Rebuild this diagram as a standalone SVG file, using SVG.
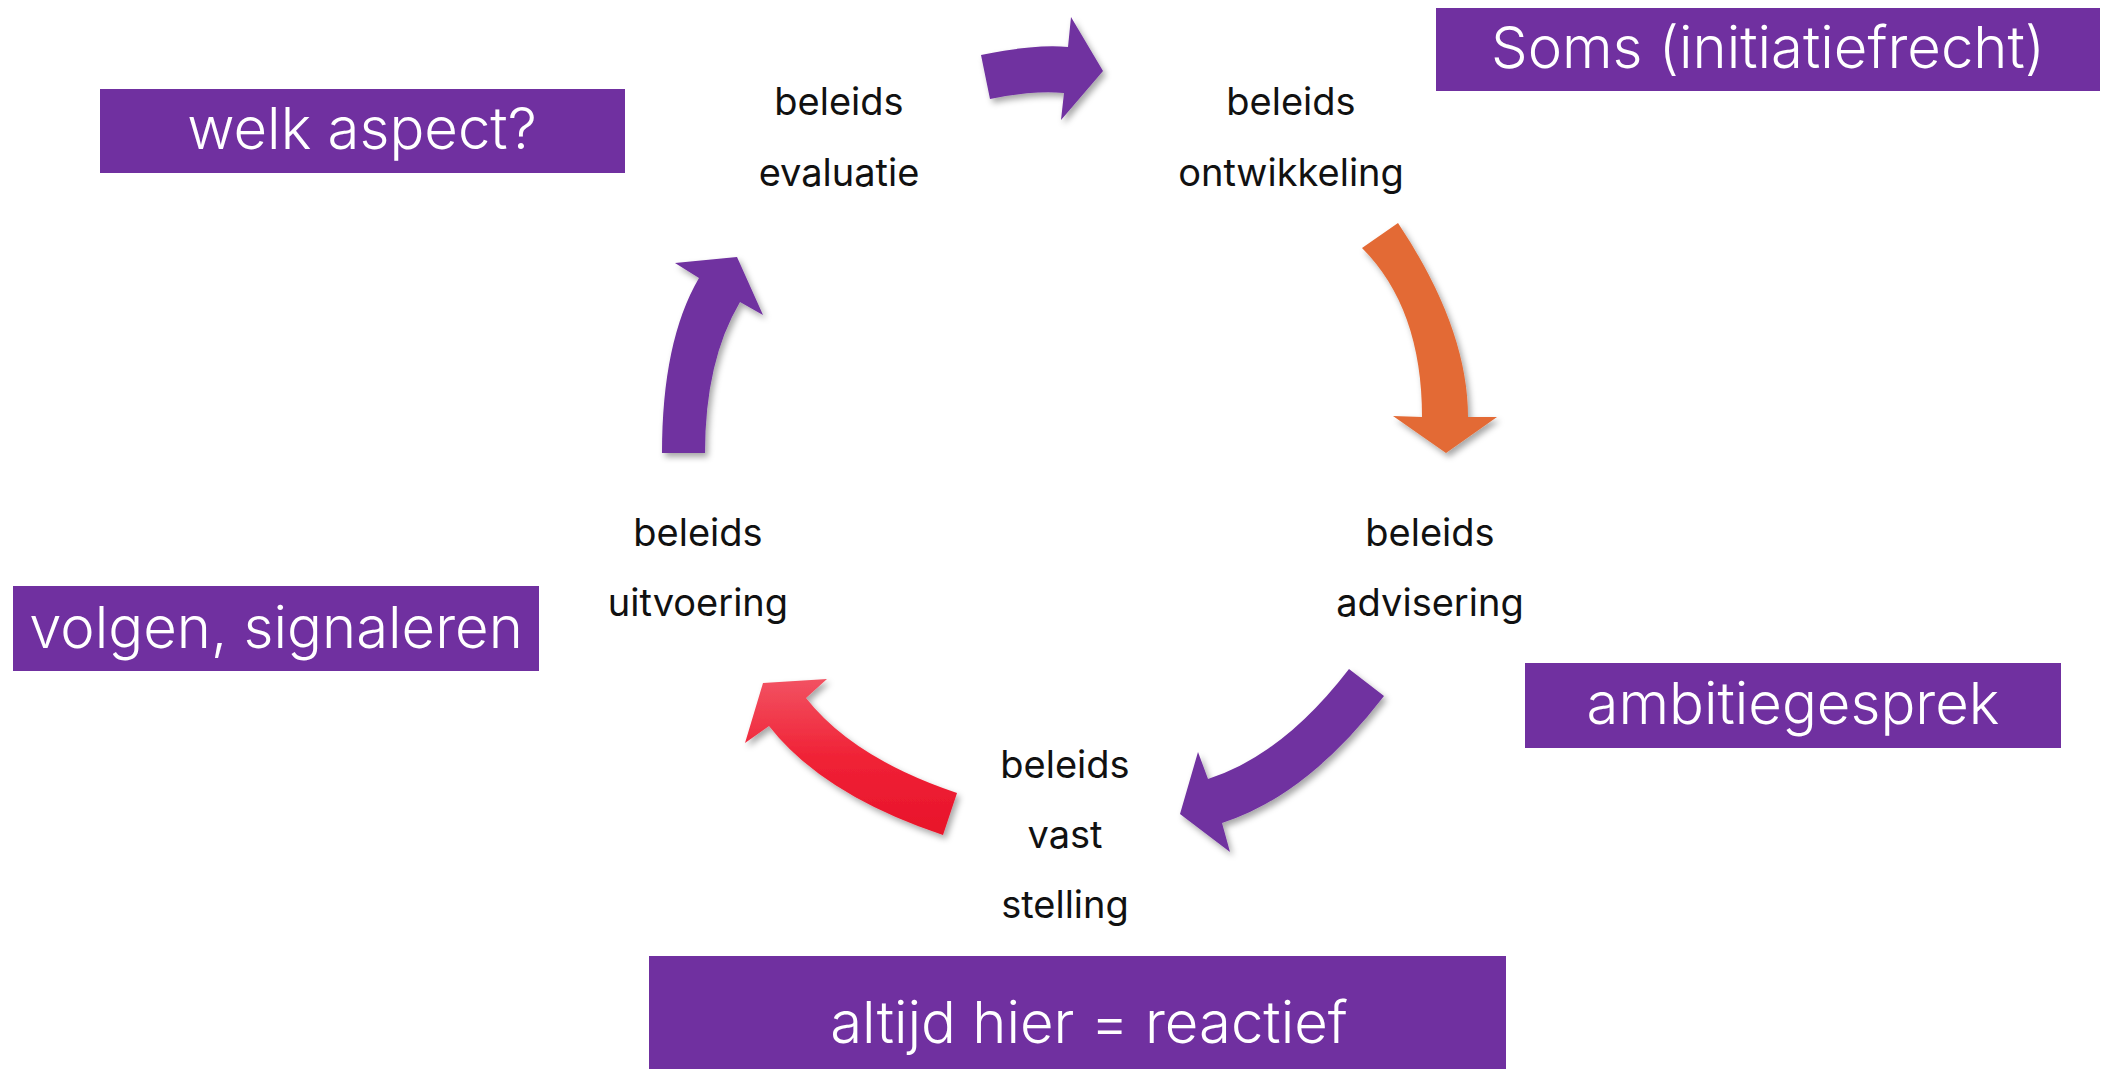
<svg xmlns="http://www.w3.org/2000/svg" width="2108" height="1069" viewBox="0 0 2108 1069">
<style>
.box{fill:#7030A0}
.bt{font-family:Inter,"Noto Sans",sans-serif;font-weight:300;fill:#ffffff;text-anchor:middle;font-size:58px}
.lb{font-family:Inter,"Noto Sans",sans-serif;font-weight:400;fill:#111111;text-anchor:middle;font-size:38px}
.pa{fill:#7030A0}
</style>
<defs>
<filter id="sh" x="-20%" y="-20%" width="150%" height="150%">
<feDropShadow dx="3" dy="4" stdDeviation="3" flood-color="#000" flood-opacity="0.35"/>
</filter>
<linearGradient id="red" x1="0" y1="0" x2="0" y2="1">
<stop offset="0" stop-color="#F25262"/>
<stop offset="0.5" stop-color="#F02236"/>
<stop offset="1" stop-color="#E8132A"/>
</linearGradient>
</defs>
<rect width="2108" height="1069" fill="#ffffff"/>
<g id="connectors" filter="url(#sh)">
<path id="arrow-top" class="pa" d="M981,55 Q1035.5,43.8 1068,47 L1071,17 L1103,71 L1061,120 L1064,93 Q1034,90 990,99 Z"/>
<path id="arrow-right" fill="#E36A35" d="M1362,248 L1398,223 Q1468,328 1468,417 L1497,417 L1446,453 L1393,416 L1422,417 Q1422,308 1362,248 Z"/>
<path id="arrow-bottom-right" class="pa" d="M1349,669 L1384,696 Q1307,796 1222,823 L1230,852 L1180,814 L1198,752 L1208,779 Q1283,755 1349,669 Z"/>
<path id="arrow-bottom-left" fill="url(#red)" d="M957,793 Q853,758 806,698 L827,679 L763,683 L745,743 L769,726 Q823,795 943,835 Z"/>
<path id="arrow-left" class="pa" d="M662,453 Q662,341 699,278 L675,263 L737,257 L763,315 L740,302 Q705,361 705,453 Z"/>
</g>
<g id="node-evaluatie">
<text class="lb" x="839" y="115">beleids</text>
<text class="lb" x="839" y="186">evaluatie</text>
</g>
<g id="node-ontwikkeling">
<text class="lb" x="1291" y="115">beleids</text>
<text class="lb" x="1291" y="186">ontwikkeling</text>
</g>
<g id="node-advisering">
<text class="lb" x="1430" y="546">beleids</text>
<text class="lb" x="1430" y="616">advisering</text>
</g>
<g id="node-vaststelling">
<text class="lb" x="1065" y="778">beleids</text>
<text class="lb" x="1065" y="848">vast</text>
<text class="lb" x="1065" y="918">stelling</text>
</g>
<g id="node-uitvoering">
<text class="lb" x="698" y="546">beleids</text>
<text class="lb" x="698" y="616">uitvoering</text>
</g>
<g id="box-welk">
<rect class="box" x="100" y="89" width="525" height="84"/>
<text class="bt" x="362" y="149">welk aspect?</text>
</g>
<g id="box-soms">
<rect class="box" x="1436" y="8" width="664" height="83"/>
<text class="bt" x="1768" y="68">Soms (initiatiefrecht)</text>
</g>
<g id="box-volgen">
<rect class="box" x="13" y="586" width="526" height="85"/>
<text class="bt" x="276" y="648">volgen, signaleren</text>
</g>
<g id="box-ambitie">
<rect class="box" x="1525" y="663" width="536" height="85"/>
<text class="bt" x="1793" y="724">ambitiegesprek</text>
</g>
<g id="box-altijd">
<rect class="box" x="649" y="956" width="857" height="113"/>
<text class="bt" x="1089" y="1043">altijd hier = reactief</text>
</g>
</svg>
